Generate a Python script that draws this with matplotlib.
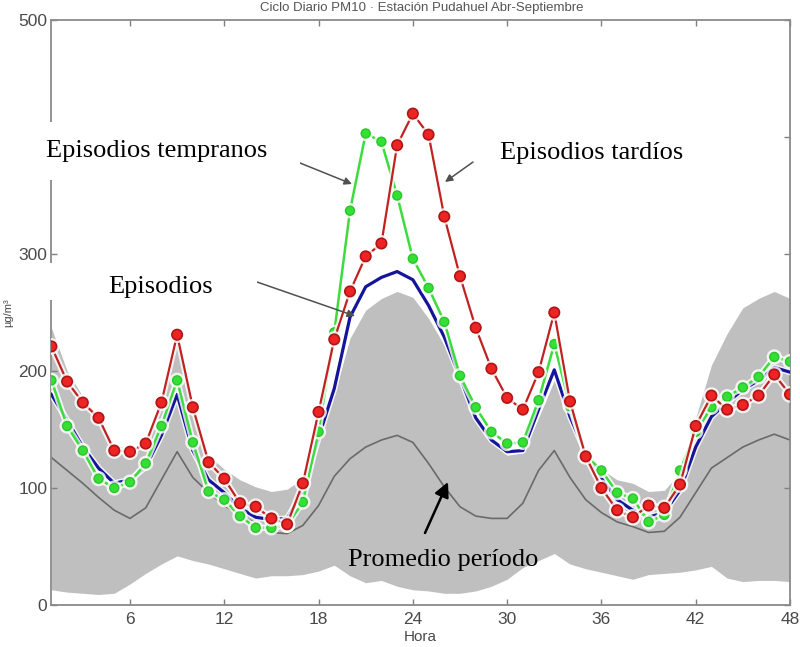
import matplotlib
matplotlib.use("Agg")
import matplotlib.pyplot as plt
import matplotlib.patheffects as pe
from matplotlib.patches import Rectangle

# ---- data ----
hours = list(range(1, 49))
late_episodes = [221, 191, 173, 160, 132, 131, 138, 173, 231, 169,
                 122, 108, 87, 84, 74, 69, 104, 165, 227, 268,
                 298, 309, 393, 420, 402, 332, 281, 237, 202, 177,
                 167, 199, 250, 174, 127, 100, 81, 75, 85, 83,
                 103, 153, 179, 167, 171, 179, 197, 180]
early_episodes = [192, 153, 132, 108, 100, 105, 121, 153, 192, 139,
                  97, 90, 76, 66, 66, 68, 88, 148, 233, 337,
                  403, 396, 350, 296, 271, 242, 196, 169, 148, 138,
                  139, 175, 223, 170, 128, 115, 96, 91, 71, 77,
                  115, 148, 169, 178, 186, 195, 212, 208]
episodes = [180, 158, 135, 117, 104, 107, 118, 145, 180, 132,
            107, 96, 83, 75, 73, 74, 97, 143, 185, 246,
            272, 280, 285, 278, 256, 229, 195, 160, 141, 131,
            132, 167, 201, 161, 130, 109, 90, 81, 75, 79,
            98, 135, 161, 173, 184, 192, 203, 199]
period_mean = [126, 115, 104, 92, 81, 74, 83, 107, 131, 109,
               96, 85, 77, 70, 62, 61, 68, 85, 110, 125,
               135, 141, 145, 139, 121, 101, 84, 76, 74, 74,
               87, 115, 132, 109, 90, 79, 71, 67, 62, 63,
               75, 96, 117, 126, 135, 141, 146, 141]
band_upper = [237, 200, 178, 160, 137, 133, 140, 170, 226, 165,
              128, 116, 107, 101, 97, 99, 108, 140, 180, 228,
              252, 262, 268, 263, 245, 222, 193, 160, 140, 128,
              130, 160, 192, 160, 125, 116, 107, 104, 97, 98,
              113, 160, 205, 232, 254, 262, 268, 262]
band_lower = [13, 11, 10, 9, 10, 18, 27, 35, 42, 38,
              35, 31, 27, 23, 25, 25, 26, 29, 34, 25,
              19, 21, 16, 13, 12, 10, 10, 12, 16, 22,
              32, 38, 44, 35, 31, 28, 25, 22, 26, 27,
              28, 30, 33, 23, 20, 21, 21, 20]
xticks = [6, 12, 18, 24, 30, 36, 42, 48]
yticks = [0, 100, 200, 300, 400, 500]

W, H = 800, 647
fig = plt.figure(figsize=(W / 100, H / 100), dpi=100)
ax = fig.add_axes([51.4 / W, 1 - 605 / H, (790 - 51.4) / W, (605 - 20) / H])

def fpx(x, y):
    return (x / W, 1 - y / H)

halo = [pe.Stroke(linewidth=4.5, foreground="white", alpha=0.8), pe.Normal()]

ax.fill_between(hours, band_lower, band_upper, color="#bfbfbf", linewidth=0, zorder=1)
ax.plot(hours, period_mean, color="#6a6a6a", lw=1.2, zorder=2)
ax.plot(hours, episodes, color="#15159a", lw=2.3, zorder=3, path_effects=halo)
ax.plot(hours, early_episodes, color="#3ddc3d", lw=1.8, marker="o", ms=6.5,
        mfc="#35e035", mec="#2cc42c", mew=1.0, zorder=4, path_effects=halo)
ax.plot(hours, late_episodes, color="#c02222", lw=1.6, marker="o", ms=7.5,
        mfc="#ee2424", mec="#b01515", mew=1.2, zorder=5, path_effects=halo)

ax.set_xlim(1, 48)
ax.set_ylim(0, 500)
ax.set_xticks(xticks)
ax.set_yticks(yticks)
ax.tick_params(direction="in", length=4, width=1, colors="#808080",
               labelcolor="#4a4a4a", labelsize=12.5, top=True, right=True,
               labeltop=False, labelright=False)
for lab in ax.get_xticklabels() + ax.get_yticklabels():
    lab.set_family("Liberation Sans")
ax.tick_params(axis="x", pad=5)
ax.tick_params(axis="y", pad=3)
for s in ax.spines.values():
    s.set_color("#8a8a8a")
    s.set_linewidth(1.3)

ax.set_xlabel("Hora", fontsize=11, color="#4a4a4a", family="Liberation Sans", labelpad=2)
ax.set_ylabel("µg/m³", fontsize=8, color="#4a4a4a", family="Liberation Sans")
ax.yaxis.set_label_coords((13 - 51.4) / (790 - 51.4), 0.5)

# title at the top edge
fig.text(422 / W, 1 - 8 / H, "Ciclo Diario PM10 · Estación Pudahuel Abr-Septiembre",
         ha="center", va="center", fontsize=9.5, color="#555555", family="Liberation Sans")

# white label boxes
for (x0, y0, x1, y1) in [(15, 122, 300, 180), (10, 263, 257, 300)]:
    r = Rectangle(fpx(x0, y1), (x1 - x0) / W, (y1 - y0) / H, transform=fig.transFigure,
                  facecolor="white", edgecolor="none", zorder=5)
    fig.add_artist(r)

serif = "Liberation Serif"
fig.text(*fpx(46, 157), "Episodios tempranos", fontsize=19, family=serif,
         ha="left", va="baseline", zorder=6)
fig.text(*fpx(108, 293), "Episodios", fontsize=19, family=serif,
         ha="left", va="baseline", zorder=6)
fig.text(*fpx(500, 159), "Episodios tardíos", fontsize=19, family=serif,
         ha="left", va="baseline", zorder=6)
fig.text(*fpx(348, 566), "Promedio período", fontsize=19, family=serif,
         ha="left", va="baseline", zorder=6)

thin = dict(arrowstyle="-|>", color="#505050", lw=1.1, mutation_scale=11,
            shrinkA=0, shrinkB=0)
for tail, head in [((300, 163), (352, 184)), ((473, 162), (445, 182)),
                   ((257, 282), (355, 316))]:
    ax.annotate("", xy=fpx(*head), xycoords="figure fraction",
                xytext=fpx(*tail), textcoords="figure fraction",
                arrowprops=thin, zorder=7)
ax.annotate("", xy=fpx(448, 482), xycoords="figure fraction",
            xytext=fpx(425, 533), textcoords="figure fraction",
            arrowprops=dict(arrowstyle="-|>", color="black", lw=1.8,
                            mutation_scale=22, shrinkA=0, shrinkB=0), zorder=7)

fig.savefig("out.png", dpi=100)
